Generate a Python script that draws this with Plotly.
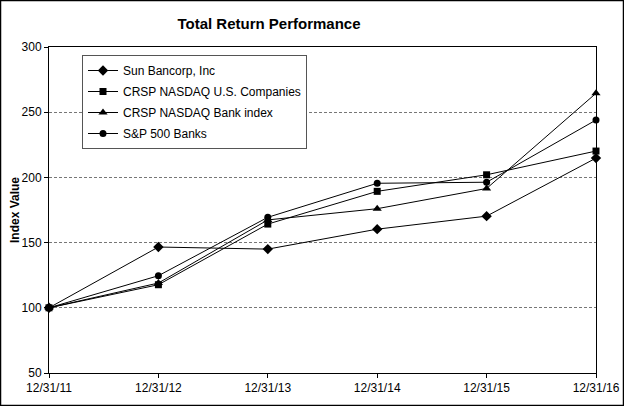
import plotly.graph_objects as go

dates = ["12/31/11", "12/31/12", "12/31/13", "12/31/14", "12/31/15", "12/31/16"]
sun_bancorp = [100, 146.6, 145.0, 160.3, 170.3, 214.8]
crsp_nasdaq_us = [100, 117.7, 164.2, 189.3, 202.0, 220.2]
crsp_nasdaq_bank = [100, 119.0, 167.4, 176.0, 191.5, 264.5]
sp500_banks = [100, 124.6, 169.4, 195.5, 196.3, 244.0]

series = [
    ("Sun Bancorp, Inc", sun_bancorp, "diamond", 8),
    ("CRSP NASDAQ U.S. Companies", crsp_nasdaq_us, "square", 7),
    ("CRSP NASDAQ Bank index", crsp_nasdaq_bank, "triangle-up", 8),
    ("S&P 500 Banks", sp500_banks, "circle", 7),
]

fig = go.Figure()
for i, (name, vals, sym, sz) in enumerate(series):
    fig.add_trace(go.Scatter(
        x=list(range(len(dates))), y=vals, name=name, mode="lines+markers",
        line=dict(color="black", width=1),
        marker=dict(symbol=sym, size=sz, color="black"),
        cliponaxis=False, legendgroup=f"g{i}",
    ))

L, R, T, B = 49, 28, 47, 33
W, H = 624, 406
pw, ph = W - L - R, H - T - B

def px_x(px):
    return (px - L) / pw

def px_y(py):
    return (H - B - py) / ph

fig.update_layout(
    width=W, height=H,
    margin=dict(l=L, r=R, t=T, b=B, autoexpand=False),
    paper_bgcolor="white", plot_bgcolor="white",
    font=dict(family="Liberation Sans, Arial, sans-serif", size=12, color="black"),
    title=dict(text="<b>Total Return Performance</b>", x=269 / W, xanchor="center",
               xref="container", y=1 - 24 / H, yanchor="middle",
               font=dict(size=15)),
    showlegend=True,
    legend=dict(x=px_x(82), y=px_y(55), xanchor="left", yanchor="top",
                bordercolor="#555", borderwidth=1, bgcolor="white",
                font=dict(size=12), traceorder="grouped", tracegroupgap=2,
                itemwidth=30),
    xaxis=dict(range=[0, 5], tickmode="array", tickvals=list(range(len(dates))),
               ticktext=dates, showgrid=False, showline=True, linecolor="black",
               linewidth=1, mirror=True, ticks="outside", ticklen=4,
               tickcolor="black", zeroline=False, automargin=False),
    yaxis=dict(range=[50, 300], dtick=50, showgrid=True, gridcolor="#777",
               griddash="3px,2px", gridwidth=1, showline=True, linecolor="black",
               linewidth=1, mirror=True, ticks="outside", ticklen=4,
               tickcolor="black", zeroline=False, automargin=False),
    annotations=[dict(text="<b>Index Value</b>", xref="paper", yref="paper",
                      x=px_x(15), y=px_y(210), textangle=-90, showarrow=False,
                      xanchor="center", yanchor="middle", font=dict(size=12))],
    shapes=[dict(type="rect", xref="paper", yref="paper",
                 x0=px_x(0.5), x1=px_x(623.5), y0=px_y(405.5), y1=px_y(0.5),
                 line=dict(color="black", width=1.5), layer="above")],
)

fig.write_html("out.html", config={"displayModeBar": False},
               post_script="document.body.style.margin='0';document.body.style.padding='0';")
